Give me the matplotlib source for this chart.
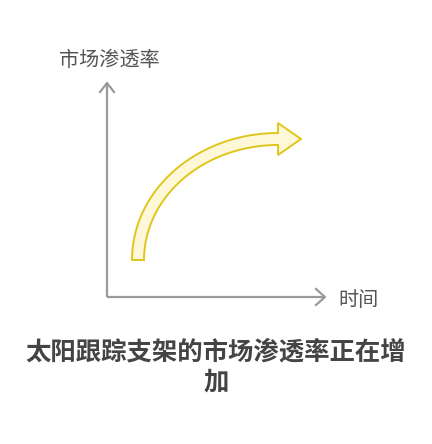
import matplotlib
matplotlib.use("Agg")
import matplotlib.pyplot as plt
import numpy as np
from matplotlib.patches import Polygon

plt.rcParams['font.family'] = ['Noto Sans CJK SC', 'DejaVu Sans']

# texts
y_label = "市场渗透率"
x_label = "时间"
title_lines = ["太阳跟踪支架的市场渗透率正在增", "加"]

# growth arrow (pixel space, y down): start of tail and end of shaft
growth_start = (138, 260)
growth_end = (278, 139)

W, H = 432, 444
fig = plt.figure(figsize=(W / 100, H / 100), dpi=100)
ax = fig.add_axes([0, 0, 1, 1])
ax.set_xlim(0, W)
ax.set_ylim(H, 0)
ax.axis('off')

axis_col = '#9a9a9a'
ox, oy = 107, 297
# axes lines
ax.plot([ox, ox], [oy, 83], color=axis_col, lw=1.6, solid_capstyle='butt')
ax.plot([ox, 325], [oy, oy], color=axis_col, lw=1.6, solid_capstyle='butt')
# open arrowheads
ax.plot([100, ox, 114], [92, 83, 92], color=axis_col, lw=1.6)
ax.plot([316, 325, 316], [289, oy, 305], color=axis_col, lw=1.6)

ax.text(109, 60, y_label, ha='center', va='center', fontsize=14.5, color='#555555')
ax.text(358, 300, x_label, ha='center', va='center', fontsize=14.5, color='#555555')

# curved arrow as quarter ellipse
cx, cy = growth_end[0], growth_start[1]
rx = growth_end[0] - growth_start[0]
ry = growth_start[1] - growth_end[1]
hw = 6
th = np.linspace(np.pi, np.pi / 2, 80)
outer = np.c_[cx + (rx + hw) * np.cos(th), cy - (ry + hw) * np.sin(th)]
inner = np.c_[cx + (rx - hw) * np.cos(th), cy - (ry - hw) * np.sin(th)][::-1]
ex, ey = growth_end
head = np.array([[ex, ey - 16], [ex + 23, ey], [ex, ey + 16]])
pts = np.vstack([outer, head, inner])
ax.add_patch(Polygon(pts, closed=True, facecolor='#fff8d8', edgecolor='#dfc61c',
                     lw=1.4, joinstyle='miter'))

ax.text(W / 2, 352, title_lines[0], ha='center', va='center', fontsize=18.3,
        fontweight='bold', color='#444444')
ax.text(W / 2, 382, title_lines[1], ha='center', va='center', fontsize=18.3,
        fontweight='bold', color='#444444')

fig.savefig('out.png', dpi=100, facecolor='white')
